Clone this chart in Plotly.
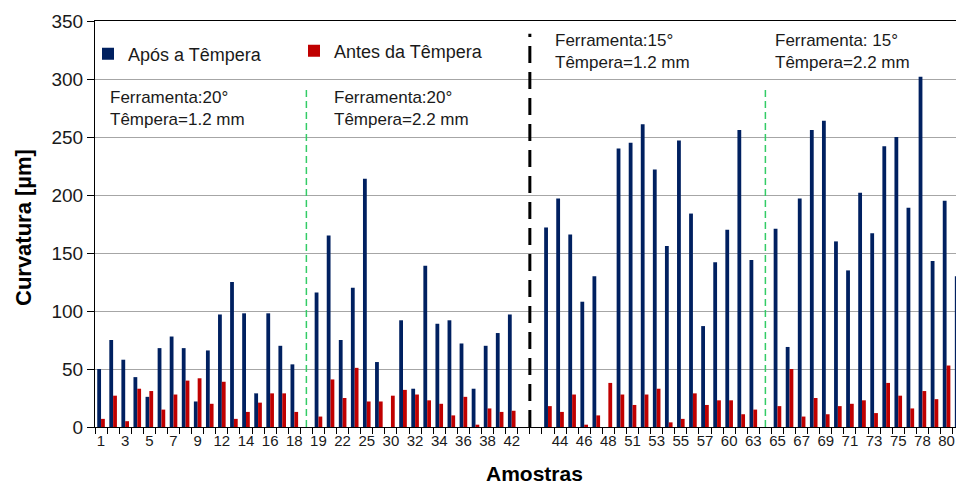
import plotly.graph_objects as go

# ---- data -------------------------------------------------------------
samples = (
    ["1", "2", "3", "4", "5", "6", "7", "8", "9", "10", "12", "13", "14", "15", "16", "17", "18"]
    + ["gap A"]
    + ["19", "21", "22", "24", "25", "27", "30", "31", "32", "33", "34", "35", "36", "37", "38", "40", "42"]
    + ["gap B", "gap C"]
    + ["43", "44", "45", "46", "47", "48", "50", "51", "52", "53", "54", "55", "56", "57", "59", "60", "62", "63"]
    + ["gap D"]
    + ["65", "66", "67", "68", "69", "70", "71", "72", "73", "74", "75", "77", "78", "79", "80", "81"]
)

tick_labels = (
    ["1", "", "3", "", "5", "", "7", "", "9", "", "12", "", "14", "", "16", "", "18"]
    + [""]
    + ["19", "", "22", "", "25", "", "30", "", "32", "", "34", "", "36", "", "38", "", "42"]
    + ["", ""]
    + ["", "44", "", "46", "", "48", "", "51", "", "53", "", "55", "", "57", "", "60", "", "63"]
    + [""]
    + ["65", "", "67", "", "69", "", "71", "", "73", "", "75", "", "78", "", "80", ""]
)

apos_tempera = (
    [50, 75, 58, 43, 26, 68, 78, 68, 22, 66, 97, 125, 98, 29, 98, 70, 54]
    + [None]
    + [116, 165, 75, 120, 214, 56, 0, 92, 33, 139, 89, 92, 72, 33, 70, 81, 97]
    + [None, None]
    + [172, 197, 166, 108, 130, 0, 240, 245, 261, 222, 156, 247, 184, 87, 142, 170, 256, 144]
    + [None]
    + [171, 69, 197, 256, 264, 160, 135, 202, 167, 242, 250, 189, 302, 143, 195, 130]
)

antes_tempera = (
    [7, 27, 5, 33, 31, 15, 28, 40, 42, 20, 39, 7, 13, 21, 29, 29, 13]
    + [None]
    + [9, 41, 25, 51, 22, 22, 27, 32, 28, 23, 20, 10, 26, 2, 16, 13, 14]
    + [None, None]
    + [18, 13, 28, 2, 10, 38, 28, 19, 28, 33, 4, 7, 29, 19, 23, 23, 11, 15]
    + [None]
    + [18, 50, 9, 25, 11, 18, 20, 23, 12, 38, 27, 16, 31, 24, 53, None]
)

group_notes = [
    "Ferramenta:20°<br>Têmpera=1.2 mm",
    "Ferramenta:20°<br>Têmpera=2.2 mm",
    "Ferramenta:15°<br>Têmpera=1.2 mm",
    "Ferramenta: 15°<br>Têmpera=2.2 mm",
]

BLUE = "#002060"
RED = "#C00000"
FONT = "Liberation Sans, Arial, sans-serif"

W, H = 956, 486
L, R, T, B = 95, 0, 21, 59
pw, ph = W - L - R, H - T - B


def px_x(p):
    return (p - L) / pw


def px_y(p):
    return (H - B - p) / ph


# ---- figure -----------------------------------------------------------
fig = go.Figure()
fig.add_trace(go.Bar(name="Após a Têmpera", x=samples, y=apos_tempera, legend="legend",
                     marker=dict(color=BLUE, line=dict(width=0))))
fig.add_trace(go.Bar(name="Antes da Têmpera", x=samples, y=antes_tempera, legend="legend2",
                     marker=dict(color=RED, line=dict(width=0))))

# separators (placed at the empty categories)
iA = samples.index("gap A")
iB = samples.index("gap B")
iD = samples.index("gap D")
fig.add_shape(type="line", xref="x", yref="y", x0=iA, x1=iA, y0=0, y1=293,
              line=dict(color="#33CC66", width=1.5, dash="7px,4px"))
fig.add_shape(type="line", xref="x", yref="y", x0=iD, x1=iD, y0=0, y1=293,
              line=dict(color="#33CC66", width=1.5, dash="7px,4px"))
fig.add_shape(type="line", xref="x", yref="y", x0=iB + 0.5, x1=iB + 0.5, y0=0, y1=339,
              line=dict(color="black", width=3, dash="17px,9px"))

note_pos = [(108, 109), (332, 109), (553, 52), (773, 52)]
for txt, (xx, yy) in zip(group_notes, note_pos):
    fig.add_annotation(text=txt, xref="paper", yref="paper", x=px_x(xx), y=px_y(yy),
                       xanchor="left", yanchor="middle", align="left", showarrow=False,
                       font=dict(family=FONT, size=17, color="#1a1a1a"))

fig.add_annotation(text="<b>Amostras</b>", xref="paper", yref="paper",
                   x=px_x(534), y=px_y(473), xanchor="center", yanchor="middle",
                   showarrow=False, font=dict(family=FONT, size=21, color="black"))
fig.add_annotation(text="<b>Curvatura [µm]</b>", xref="paper", yref="paper",
                   x=px_x(23), y=px_y(228), xanchor="center", yanchor="middle",
                   textangle=-90, showarrow=False,
                   font=dict(family=FONT, size=22, color="black"))

legend_common = dict(orientation="h", xanchor="left", yanchor="middle",
                     font=dict(family=FONT, size=18, color="#1a1a1a"),
                     bgcolor="rgba(0,0,0,0)")

fig.update_layout(
    width=W, height=H,
    margin=dict(l=L, r=R, t=T, b=B, pad=0, autoexpand=False),
    paper_bgcolor="white", plot_bgcolor="white",
    barmode="group", bargap=0.37, bargroupgap=0,
    font=dict(family=FONT, color="#1a1a1a"),
    showlegend=True,
    legend=dict(x=px_x(88), y=px_y(54), **legend_common),
    legend2=dict(x=px_x(294), y=px_y(51), **legend_common),
)

fig.update_xaxes(
    type="category", categoryorder="array", categoryarray=samples,
    tickmode="array", tickvals=samples, ticktext=tick_labels, tickangle=0,
    tickson="boundaries", ticks="outside", ticklen=6, tickcolor="black",
    tickfont=dict(family=FONT, size=15, color="#1a1a1a"),
    showline=True, linecolor="black", linewidth=1, mirror=True,
    showgrid=False, range=[-0.5, 70.78], fixedrange=True, automargin=False,
)
fig.update_yaxes(
    range=[0, 350], tickmode="linear", tick0=0, dtick=50,
    ticks="outside", ticklen=7, tickcolor="black",
    tickfont=dict(family=FONT, size=19, color="#1a1a1a"),
    showline=True, linecolor="black", linewidth=1,
    showgrid=True, gridcolor="#A6A6A6", gridwidth=1,
    zeroline=False, automargin=False,
)

fig.write_html("out.html", config={"displayModeBar": False},
               post_script="document.body.style.margin='0';document.body.style.overflow='hidden';")
